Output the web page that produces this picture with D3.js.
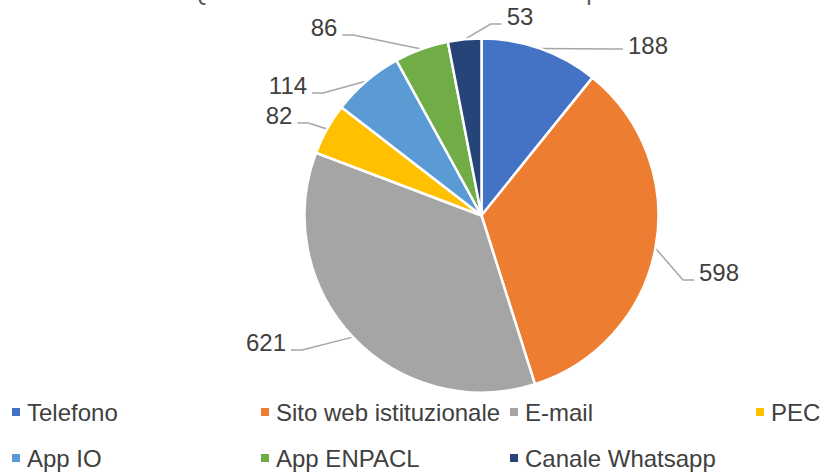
<!DOCTYPE html>
<html>
<head>
<meta charset="utf-8">
<script src="https://cdn.jsdelivr.net/npm/d3@7/dist/d3.min.js"></script>
<style>
  html, body { margin: 0; padding: 0; background: #fff; }
  svg { display: block; font-family: "Liberation Sans", Arial, sans-serif; }
</style>
</head>
<body>
<svg id="chart" width="821" height="472"></svg>
<script>
// Survey answers: preferred communication channels
const categories = ["Telefono", "Sito web istituzionale", "E-mail", "PEC", "App IO", "App ENPACL", "Canale Whatsapp"];
const values = [188, 598, 621, 82, 114, 86, 53];
const colors = ["#4472C4", "#ED7D31", "#A5A5A5", "#FFC000", "#5B9BD5", "#70AD47", "#264478"];
const title = "Quali canali di comunicazione utilizzi per contattare l'Ente?";

// Layout: where each value label sits (text centre) and which side its leader enters from
const labelPos = [[648, 45], [719, 272], [266, 342], [279, 115], [288, 85], [324, 27], [520, 16]];
const labelSide = ["right", "right", "left", "left", "left", "left", "right"];

const W = 821, H = 472;
const cx = 481.5, cy = 215.5, R = 177;
const fontSize = 24;

const svg = d3.select("#chart");

// Title (sits almost entirely above the visible area)
svg.append("text")
  .attr("x", 190).attr("y", 0)
  .attr("font-size", 24)
  .attr("fill", "#595959")
  .text(title);

const pie = d3.pie().sort(null).value(d => d)(values);
const arc = d3.arc().innerRadius(0).outerRadius(R);
const color = d3.scaleOrdinal().domain(categories).range(colors);

const g = svg.append("g").attr("transform", `translate(${cx},${cy})`);

g.selectAll("path.slice")
  .data(pie)
  .join("path")
  .attr("class", "slice")
  .attr("d", arc)
  .attr("fill", (d, i) => color(categories[i]))
  .attr("stroke", "#fff")
  .attr("stroke-width", 2.5)
  .attr("stroke-linejoin", "round");

// Leader lines from the slice rim (mid-angle) to the value labels
const texts = svg.append("g");
pie.forEach((d, i) => {
  const a = (d.startAngle + d.endAngle) / 2;
  const sx = cx + R * Math.sin(a);
  const sy = cy - R * Math.cos(a);
  const [tx, ty] = labelPos[i];
  const t = texts.append("text")
    .attr("x", tx).attr("y", ty)
    .attr("text-anchor", "middle")
    .attr("dominant-baseline", "central")
    .attr("font-size", fontSize)
    .attr("fill", "#404040")
    .text(d.data);
  const bb = t.node().getBBox();
  const ly = ty + (i === 0 ? 4 : 8);
  let ex, bx;
  if (labelSide[i] === "right") {
    ex = bb.x - 5; bx = ex - 11;
  } else {
    ex = bb.x + bb.width + 5; bx = ex + 11;
  }
  svg.insert("polyline", "g")
    .attr("points", `${sx},${sy} ${bx},${ly} ${ex},${ly}`)
    .attr("fill", "none")
    .attr("stroke", "#A6A6A6")
    .attr("stroke-width", 1.5);
});

// Legend: two rows, four columns
const legendCols = [12, 261, 510, 756];
const legendRows = [412, 458];
const legend = svg.append("g");
categories.forEach((c, i) => {
  const col = i % 4, row = Math.floor(i / 4);
  const x = legendCols[col], y = legendRows[row];
  legend.append("rect")
    .attr("x", x).attr("y", y - 4)
    .attr("width", 8).attr("height", 8)
    .attr("fill", color(c));
  legend.append("text")
    .attr("x", x + 15).attr("y", y)
    .attr("dominant-baseline", "central")
    .attr("font-size", fontSize)
    .attr("fill", "#404040")
    .text(c);
});
</script>
</body>
</html>
